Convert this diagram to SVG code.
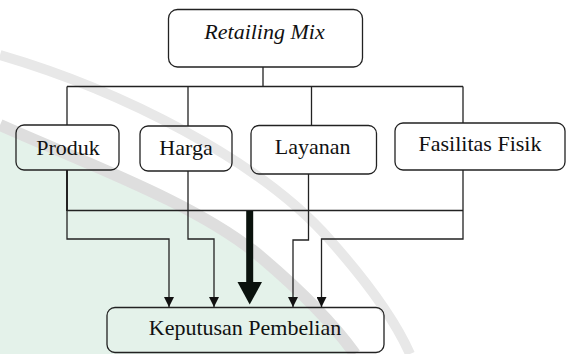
<svg xmlns="http://www.w3.org/2000/svg" width="567" height="354" viewBox="0 0 567 354">
<defs>
<marker id="ah" markerUnits="userSpaceOnUse" markerWidth="10" markerHeight="10" refX="10" refY="5" orient="auto" viewBox="0 0 10 10">
<path d="M0,0 L10,5 L0,10 z" fill="#111"/>
</marker>
</defs>
<rect width="567" height="354" fill="#fff"/>
<g id="watermark">
<path d="M0,125 C90,165 200,205 262,258 C302,292 332,322 355,354 L0,354 Z" fill="#e4f2ea"/>
<path d="M0,125 C90,165 200,205 262,258 C302,292 332,322 355,354" fill="none" stroke="#dedede" stroke-width="12"/>
<path d="M0,55 C120,90 260,160 330,240 C370,285 395,320 410,354" fill="none" stroke="#e8e8e8" stroke-width="10"/>
</g>
<g id="connectors" fill="none" stroke="#222" stroke-width="1.3">
<path d="M263,67 V86.5 M67,86.5 H463 M67,86.5 V125 M188,86.5 V126 M311.5,86.5 V125.5 M463,86.5 V123"/>
<path d="M67,210.5 H463"/>
<path stroke-width="2" d="M67,170 V211"/>
<path d="M67,210 V239 H169 V307" marker-end="url(#ah)"/>
<path d="M188,171 V239 H214 V307" marker-end="url(#ah)"/>
<path d="M308.5,174 V240 H293 V307" marker-end="url(#ah)"/>
<path d="M463,170 V239 H321.5 V307" marker-end="url(#ah)"/>
<path d="M249.7,211 V283" stroke="#0a120d" stroke-width="7"/>
<polygon points="237.5,282 262,282 249.7,304.5" fill="#0a120d" stroke="none"/>
</g>
<g id="retailing-mix">
<rect x="168.5" y="9.5" width="194" height="57.5" rx="9" fill="none" stroke="#222" stroke-width="1.3"/>
<text x="264.5" y="38.5" font-family="Liberation Serif, Times New Roman, serif" font-size="22" fill="#111" text-anchor="middle" font-style="italic">Retailing Mix</text>
</g>
<g id="produk">
<rect x="16" y="125" width="103" height="45" rx="8" fill="none" stroke="#222" stroke-width="1.3"/>
<text x="68" y="155" font-family="Liberation Serif, Times New Roman, serif" font-size="22" fill="#111" text-anchor="middle">Produk</text>
</g>
<g id="harga">
<rect x="140" y="126" width="92" height="45" rx="8" fill="none" stroke="#222" stroke-width="1.3"/>
<text x="186" y="155" font-family="Liberation Serif, Times New Roman, serif" font-size="22" fill="#111" text-anchor="middle">Harga</text>
</g>
<g id="layanan">
<rect x="251" y="125.5" width="125.5" height="48.5" rx="8" fill="none" stroke="#222" stroke-width="1.3"/>
<text x="312.7" y="153.5" font-family="Liberation Serif, Times New Roman, serif" font-size="22" fill="#111" text-anchor="middle">Layanan</text>
</g>
<g id="fasilitas-fisik">
<rect x="395" y="123" width="170" height="47" rx="8" fill="none" stroke="#222" stroke-width="1.3"/>
<text x="480" y="151" font-family="Liberation Serif, Times New Roman, serif" font-size="22" fill="#111" text-anchor="middle">Fasilitas Fisik</text>
</g>
<g id="keputusan-pembelian">
<rect x="107" y="307.5" width="277" height="45" rx="8" fill="none" stroke="#222" stroke-width="1.3"/>
<text x="245" y="334.5" font-family="Liberation Serif, Times New Roman, serif" font-size="22" fill="#111" text-anchor="middle">Keputusan Pembelian</text>
</g>
</svg>
